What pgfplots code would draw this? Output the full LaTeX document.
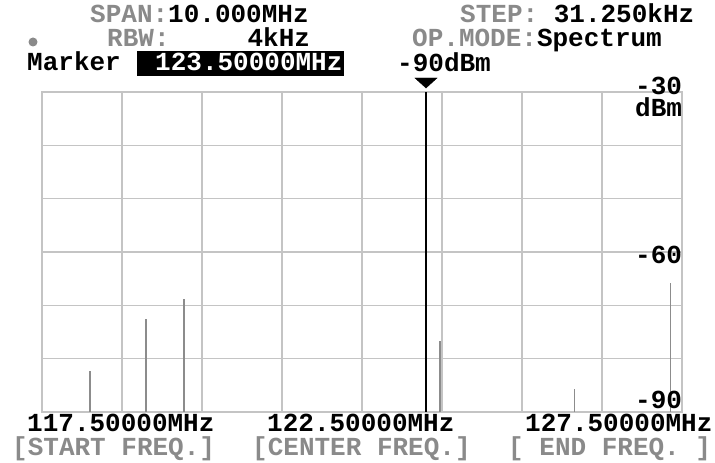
\documentclass[border=0pt]{standalone}
\usepackage{fontspec}
\setmainfont{Liberation Mono}
\usepackage{pgfplots}
\pgfplotsset{compat=1.18}
\definecolor{gtxt}{HTML}{8A8A8A}
\definecolor{grd}{HTML}{C4C4C4}
\definecolor{sig}{HTML}{8C8C8C}
\newcommand{\T}{\fontsize{26}{26}\selectfont\bfseries}
\begin{document}
\begin{tikzpicture}
\path[use as bounding box] (0pt,0pt) rectangle (715pt,463pt);
\begin{axis}[at={(42pt,51pt)}, anchor=south west, scale only axis,
  width=640pt, height=320pt,
  xmin=117.5, xmax=127.5, ymin=-90, ymax=-30,
  xtick={117.5,118.75,120,121.25,122.5,123.75,125,126.25,127.5},
  ytick={-90,-80,-70,-60,-50,-40,-30},
  grid=major, major grid style={grd, line width=1.3pt},
  axis line style={grd, line width=1.3pt},
  xticklabels={}, yticklabels={}, tick style={draw=none},
  clip=false]
\addplot[sig, line width=1.4pt] coordinates {(118.25,-90) (118.25,-82.3)};
\addplot[sig, line width=1.4pt] coordinates {(119.125,-90) (119.125,-72.6)};
\addplot[sig, line width=1.4pt] coordinates {(119.72,-90) (119.72,-68.8)};
\addplot[sig, line width=1.4pt] coordinates {(123.72,-90) (123.72,-76.6)};
\addplot[sig, line width=1.4pt] coordinates {(125.82,-90) (125.82,-85.7)};
\addplot[sig, line width=1.4pt] coordinates {(127.32,-90) (127.32,-65.8)};
\addplot[black, line width=2pt] coordinates {(123.5,-90) (123.5,-30)};
\addplot[black, mark=triangle*, mark size=6.7pt, mark options={rotate=180, xscale=1.9, fill=black}] coordinates {(123.5,-28.0)};
\end{axis}
\tikzset{every node/.style={inner sep=0pt, anchor=base west, font=\T, text height=17pt, text depth=0pt}}
% row 1
\node at (90pt,{(463-23)*1pt}) {\textcolor{gtxt}{SPAN:}10.000MHz};
\node at (460pt,{(463-23)*1pt}) {\textcolor{gtxt}{STEP:} 31.250kHz};
% row 2
\fill[gtxt] (33pt,{(463-42)*1pt}) circle (4.5pt);
\node at (107pt,{(463-47)*1pt}) {\textcolor{gtxt}{RBW:}\ \ \ \ \ 4kHz};
\node at (412pt,{(463-47)*1pt}) {\textcolor{gtxt}{OP.MODE:}Spectrum};
% row 3
\node at (27pt,{(463-71)*1pt}) {Marker};
\fill[black] (137pt,{(463-76)*1pt}) rectangle (344pt,{(463-51)*1pt});
\node[text=white] at (155pt,{(463-71)*1pt}) {123.50000MHz};
\node at (397pt,{(463-72)*1pt}) {-90dBm};
% right labels
\node at (635pt,{(463-95)*1pt}) {-30};
\node at (635pt,{(463-117)*1pt}) {dBm};
\node at (635pt,{(463-264)*1pt}) {-60};
\node at (635pt,{(463-409)*1pt}) {-90};
% bottom
\node at (27pt,{(463-432)*1pt}) {117.50000MHz};
\node at (267pt,{(463-432)*1pt}) {122.50000MHz};
\node at (525pt,{(463-432)*1pt}) {127.50000MHz};
\node[text=gtxt] at (12pt,{(463-456)*1pt}) {[START FREQ.]};
\node[text=gtxt] at (252pt,{(463-456)*1pt}) {[CENTER FREQ.]};
\node[text=gtxt] at (508pt,{(463-456)*1pt}) {[ END FREQ. ]};
\end{tikzpicture}
\end{document}
